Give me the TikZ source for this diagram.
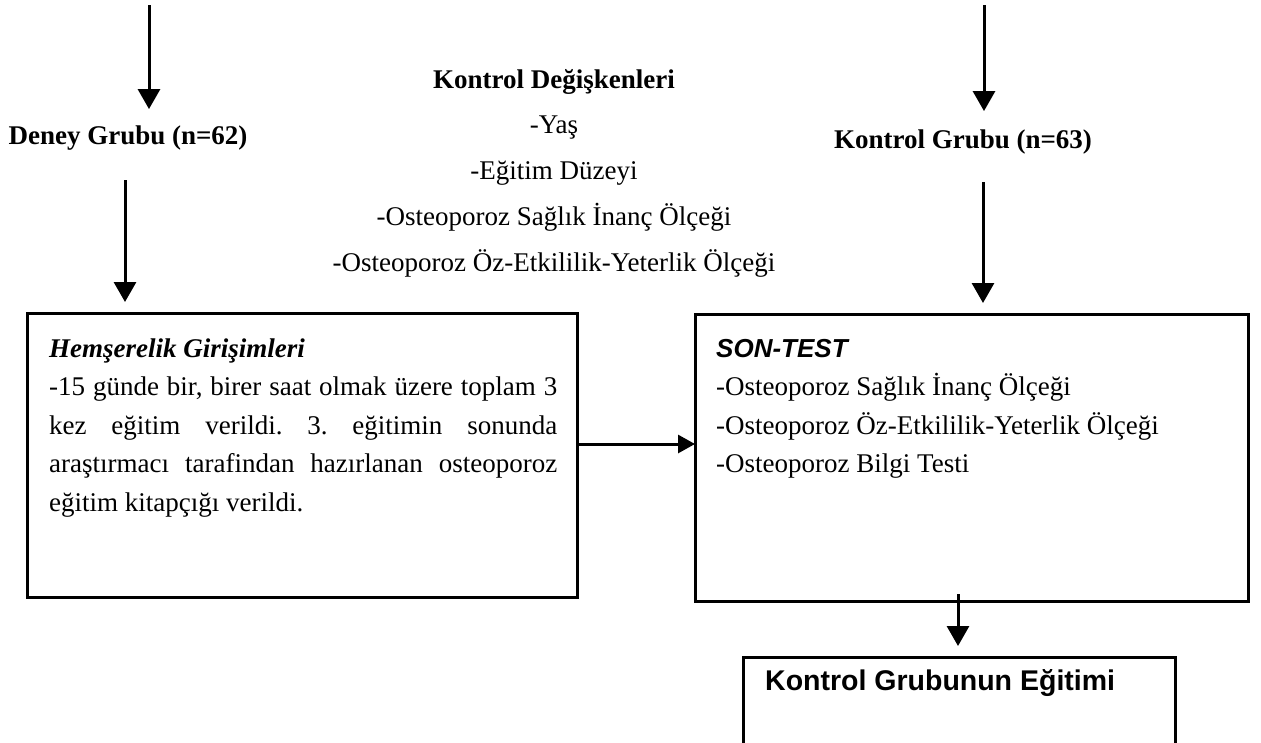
\documentclass[tikz,border=0pt]{standalone}
\usepackage{fontspec}
\setmainfont{Liberation Serif}
\newfontfamily\arialf{Liberation Sans}
\usetikzlibrary{arrows.meta}
\begin{document}
\frenchspacing
\begin{tikzpicture}[x=1pt,y=-1pt,
  arr/.style={line width=3pt,-{Triangle[width=22pt,length=20pt]}},
  harr/.style={line width=3pt,-{Triangle[width=18pt,length=17pt]}},
  frame/.style={draw,line width=3pt,inner sep=0pt,outer sep=0pt,anchor=north west},
  lbl/.style={font=\fontsize{27}{32}\selectfont\bfseries,inner sep=0pt,anchor=base},
  body/.style={font=\fontsize{27}{38.5}\selectfont,inner sep=0pt,anchor=north west,align=left},
]
\useasboundingbox (0,0) rectangle (1261,742);

% labels
\node[lbl] (deney) at (128,144) {Deney Grubu (n=62)};
\node[lbl] (kg) at (963,148) {Kontrol Grubu (n=63)};

% middle list
\node[font=\fontsize{27}{45.75}\selectfont,align=center,inner sep=0pt,anchor=north] (kd) at (554,68)
  {\rule{0pt}{20pt}\textbf{Kontrol Değişkenleri}\\-Yaş\\-Eğitim Düzeyi\\-Osteoporoz Sağlık İnanç Ölçeği\\-Osteoporoz Öz-Etkililik-Yeterlik Ölçeği};

% boxes
\node[frame,minimum width=550pt,minimum height=284pt] (hem) at (27,313) {};
\node[frame,minimum width=553pt,minimum height=287pt] (son) at (695,314) {};
\node[frame,minimum width=432pt,minimum height=140pt] (kgeb) at (743,657) {};

% box texts
\node[body] (hemt) at (49,337) {\rule{0pt}{20pt}\textbf{\itshape Hemşerelik Girişimleri}\\
  \makebox[508pt][s]{-15 günde bir, birer saat olmak üzere toplam 3}\\
  \makebox[508pt][s]{kez eğitim verildi. 3. eğitimin sonunda}\\
  \makebox[508pt][s]{araştırmacı tarafindan hazırlanan osteoporoz}\\
  eğitim kitapçığı verildi.};
\node[body] (sont) at (716,337) {\rule{0pt}{20pt}{\arialf\fontsize{26}{38.5}\selectfont\bfseries\itshape SON-TEST}\\
  -Osteoporoz Sağlık İnanç Ölçeği\\
  -Osteoporoz Öz-Etkililik-Yeterlik Ölçeği\\
  -Osteoporoz Bilgi Testi};
\node[anchor=base west,font=\arialf\bfseries\fontsize{28.5}{32}\selectfont,inner sep=0pt] (kget) at (765,690) {Kontrol Grubunun Eğitimi};

% connectors
\coordinate (a1s) at (149,5);
\coordinate (a2s) at (125,180);
\coordinate (a3s) at (984,5);
\coordinate (a4s) at (983,182);
\coordinate (a5s) at (958,594);
\coordinate (hy) at (0,444);
\draw[arr,shorten >=16pt] (a1s) -- (a1s |- deney.north);
\draw[arr,shorten >=11pt] (a2s) -- (a2s |- hem.north);
\draw[arr,shorten >=18pt] (a3s) -- (a3s |- kg.north);
\draw[arr,shorten >=11pt] (a4s) -- (a4s |- son.north);
\draw[harr] (hem.east |- hy) -- (son.west |- hy);
\draw[arr,shorten >=11pt] (a5s) -- (a5s |- kgeb.north);
\end{tikzpicture}
\end{document}
